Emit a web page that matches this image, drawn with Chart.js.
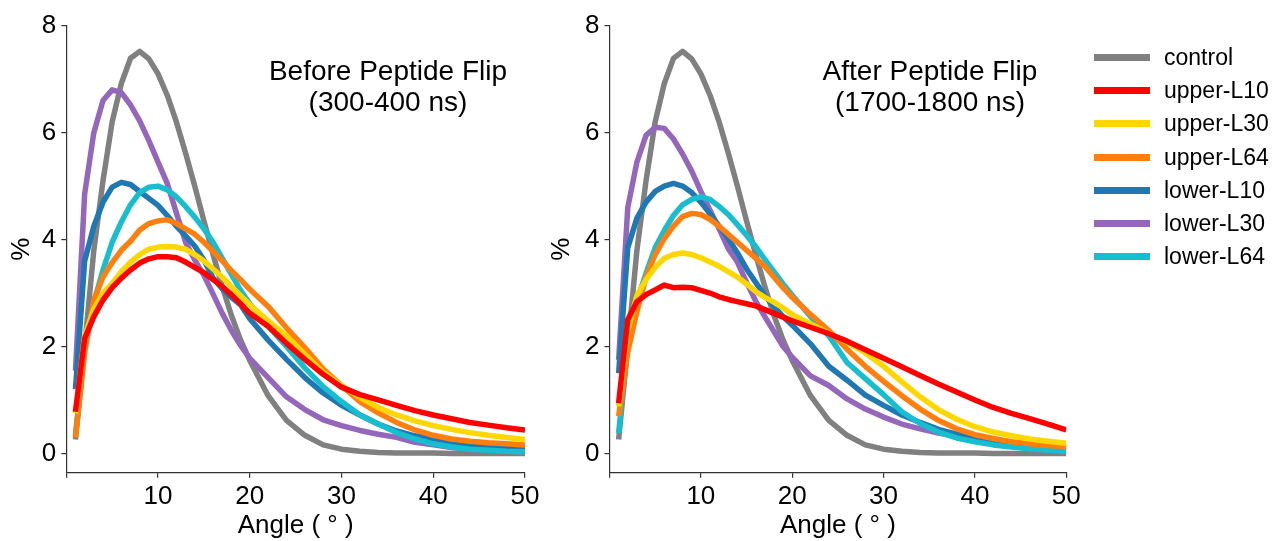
<!DOCTYPE html>
<html>
<head>
<meta charset="utf-8">
<script src="https://cdn.jsdelivr.net/npm/chart.js@4.4.1/dist/chart.umd.min.js"></script>
<style>
body{margin:0;width:1273px;height:541px;overflow:hidden;background:#fff;position:relative;font-family:"Liberation Sans",Arial,sans-serif;color:#000}
canvas{position:absolute;top:0}
#before{left:0}
#after{left:540px}
.ttl{position:absolute;width:320px;text-align:center;font-size:28px;line-height:31px}
#legend{position:absolute;left:1094px;top:40.5px}
.li{height:33.3px;display:flex;align-items:center;font-size:23px}
.sw{width:56px;height:7px;margin-right:14px}
</style>
</head>
<body>
<canvas id="before" width="560" height="541"></canvas>
<canvas id="after" width="560" height="541"></canvas>
<div class="ttl" style="left:228px;top:55px">Before Peptide Flip<br>(300-400 ns)</div>
<div class="ttl" style="left:770px;top:55px">After Peptide Flip<br>(1700-1800 ns)</div>
<div id="legend"></div>
<script>
// Data
const angles = [1,2,3,4,5,6,7,8,9,10,11,12,13,14,15,16,17,18,19,20,22,24,26,28,30,32,34,36,38,40,42,44,46,48,50];
const seriesNames = ["control","upper-L10","upper-L30","upper-L64","lower-L10","lower-L30","lower-L64"];
const xTicks = [0,10,20,30,40,50];
const yTicks = [0,2,4,6,8];

const control = [0.26,2.0,3.8,5.1,6.2,6.92,7.39,7.52,7.38,7.1,6.7,6.2,5.62,5.0,4.35,3.72,3.12,2.58,2.12,1.74,1.08,0.62,0.34,0.16,0.08,0.04,0.02,0.01,0.01,0.01,0,0,0,0,0];

const beforeUpperL10 = [0.78,2.15,2.56,2.87,3.1,3.28,3.43,3.56,3.64,3.68,3.68,3.66,3.58,3.48,3.38,3.25,3.12,2.97,2.8,2.62,2.38,2.06,1.76,1.48,1.24,1.1,1.0,0.9,0.8,0.72,0.65,0.58,0.53,0.48,0.44];
const beforeUpperL30 = [0.75,2.2,2.7,3.0,3.18,3.4,3.58,3.72,3.82,3.86,3.87,3.86,3.82,3.72,3.6,3.45,3.3,3.12,2.95,2.78,2.48,2.2,1.85,1.52,1.27,1.05,0.86,0.72,0.61,0.52,0.45,0.39,0.34,0.3,0.26];
const beforeUpperL64 = [0.3,1.9,2.87,3.3,3.57,3.8,3.97,4.18,4.3,4.35,4.37,4.3,4.2,4.1,3.95,3.78,3.6,3.42,3.25,3.07,2.75,2.35,1.98,1.58,1.27,0.97,0.76,0.58,0.44,0.34,0.27,0.23,0.2,0.18,0.16];
const beforeLowerL10 = [1.2,3.6,4.25,4.7,4.98,5.07,5.03,4.9,4.77,4.64,4.45,4.25,4.07,3.88,3.62,3.28,3.08,2.92,2.78,2.52,2.12,1.76,1.42,1.13,0.9,0.72,0.55,0.42,0.33,0.26,0.21,0.17,0.14,0.12,0.1];
const beforeLowerL30 = [1.55,4.85,6.0,6.6,6.8,6.75,6.52,6.22,5.85,5.45,5.05,4.5,3.95,3.62,3.33,2.98,2.62,2.3,2.02,1.78,1.42,1.06,0.82,0.63,0.52,0.43,0.36,0.3,0.21,0.16,0.11,0.08,0.06,0.05,0.04];
const beforeLowerL64 = [0.35,1.95,2.82,3.43,3.95,4.33,4.65,4.88,4.98,5.0,4.93,4.8,4.62,4.42,4.2,3.95,3.65,3.35,3.05,2.8,2.38,2.0,1.6,1.25,0.97,0.72,0.55,0.39,0.27,0.18,0.12,0.08,0.06,0.04,0.03];

const afterUpperL10 = [0.94,2.5,2.84,2.97,3.06,3.15,3.1,3.11,3.1,3.05,3.0,2.93,2.88,2.84,2.8,2.76,2.69,2.62,2.55,2.48,2.36,2.24,2.1,1.94,1.78,1.62,1.46,1.3,1.15,1.0,0.86,0.75,0.65,0.55,0.44];
const afterUpperL30 = [0.88,2.3,2.95,3.25,3.48,3.65,3.72,3.75,3.72,3.66,3.58,3.5,3.4,3.3,3.17,3.03,2.92,2.83,2.72,2.6,2.42,2.25,2.08,1.88,1.63,1.34,1.06,0.82,0.64,0.5,0.4,0.33,0.27,0.23,0.19];
const afterUpperL64 = [0.7,1.9,2.65,3.3,3.72,4.02,4.25,4.43,4.49,4.47,4.38,4.25,4.1,3.95,3.8,3.65,3.5,3.3,3.1,2.92,2.6,2.3,1.95,1.63,1.35,1.08,0.83,0.62,0.46,0.35,0.28,0.22,0.18,0.15,0.13];
const afterLowerL10 = [1.5,3.85,4.4,4.7,4.9,5.0,5.05,5.0,4.88,4.7,4.48,4.25,4.02,3.75,3.45,3.2,2.95,2.75,2.56,2.4,2.05,1.63,1.37,1.09,0.9,0.72,0.58,0.45,0.36,0.29,0.24,0.2,0.17,0.15,0.13];
const afterLowerL30 = [1.75,4.6,5.45,5.95,6.1,6.08,5.88,5.6,5.28,4.9,4.55,4.2,3.83,3.58,3.2,2.85,2.56,2.28,2.0,1.8,1.45,1.27,1.02,0.83,0.68,0.55,0.46,0.38,0.32,0.26,0.21,0.17,0.14,0.12,0.1];
const afterLowerL64 = [0.38,2.05,2.85,3.37,3.85,4.17,4.45,4.65,4.75,4.8,4.75,4.62,4.47,4.28,4.08,3.87,3.63,3.4,3.17,2.96,2.56,2.2,1.7,1.4,1.1,0.78,0.56,0.4,0.29,0.22,0.16,0.12,0.09,0.06,0.04];

const seriesColors = ["#808080","#ff0000","#ffd700","#ff7f0e","#1f77b4","#9467bd","#17becf"];
const drawOrder = [6,0,1,2,4,5,3]; // red on top, gray at the back

Chart.defaults.font.family = '"Liberation Sans", Arial, sans-serif';
Chart.defaults.color = "#000";

function makeChart(id, series, axisW, padRight){
  const axisCol = "#333";
  return new Chart(document.getElementById(id), {
    type: "line",
    data: {
      datasets: seriesNames.map((name,i)=>({
        label: name,
        data: angles.map((a,k)=>({x:a, y:series[i][k]})),
        borderColor: seriesColors[i], backgroundColor: seriesColors[i],
        borderWidth: 5.5, pointRadius: 0, tension: 0, fill: false,
        borderJoinStyle: "round", order: drawOrder[i]
      }))
    },
    options: {
      responsive: false, animation: false,
      layout: { padding: { top: 25.7, right: padRight, bottom: 0, left: 0 } },
      plugins: { legend: { display: false }, tooltip: { enabled: false } },
      scales: {
        x: {
          type: "linear", min: 0, max: 50,
          afterBuildTicks: s => { s.ticks = xTicks.map(v=>({value:v})); },
          afterFit: s => { s.height = 68.3; },
          ticks: { callback: v => v===0 ? "" : v, font: { size: 26 }, padding: 4, maxRotation: 0 },
          grid: { drawOnChartArea: false, tickLength: 5, color: axisCol, lineWidth: 1.2 },
          border: { color: axisCol, width: 1.2 },
          title: { display: true, text: "Angle ( ° )", font: { size: 26 }, padding: 0 }
        },
        y: {
          min: -0.36, max: 8,
          afterBuildTicks: s => { s.ticks = yTicks.map(v=>({value:v})); },
          afterFit: s => { s.width = axisW; },
          ticks: { font: { size: 26 }, padding: 5 },
          grid: { drawOnChartArea: false, tickLength: 5, color: axisCol, lineWidth: 1.2 },
          border: { color: axisCol, width: 1.2 },
          title: { display: true, text: "%", font: { size: 26 }, padding: { top: 6, bottom: 0 } }
        }
      }
    }
  });
}

makeChart("before", [control,beforeUpperL10,beforeUpperL30,beforeUpperL64,beforeLowerL10,beforeLowerL30,beforeLowerL64], 66.3, 35);
makeChart("after", [control,afterUpperL10,afterUpperL30,afterUpperL64,afterLowerL10,afterLowerL30,afterLowerL64], 69.5, 33.7);

// legend
const lg = document.getElementById("legend");
seriesNames.forEach((n,i)=>{
  const row = document.createElement("div"); row.className = "li";
  row.innerHTML = `<span class="sw" style="background:${seriesColors[i]}"></span><span>${n}</span>`;
  lg.appendChild(row);
});
</script>
</body>
</html>
